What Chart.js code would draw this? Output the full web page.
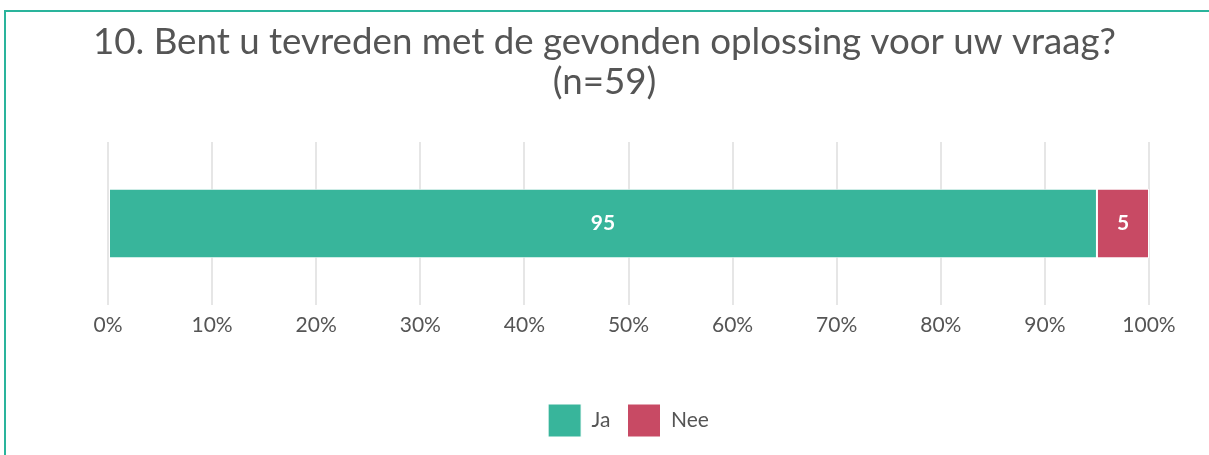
<!DOCTYPE html>
<html lang="nl">
<head>
    <meta charset="UTF-8">
    <title>Tevredenheid oplossing</title>
    <script src="https://cdn.jsdelivr.net/npm/chart.js"></script>
    <style>
        body {
            margin: 0;
            background: #ffffff;
            font-family: Lato, sans-serif;
        }

        .frame {
            position: absolute;
            left: 4px;
            top: 10px;
            width: 1220px;
            height: 460px;
            border-top: 2px solid #2ab49c;
            border-left: 2px solid #2ab49c;
        }

        .container {
            position: absolute;
            left: 0;
            top: 0;
            width: 1209px;
            height: 455px;
        }
    </style>
</head>
<body>

    <div class="frame"></div>
    <div class="container">
        <canvas id="satisfactionChart"></canvas>
    </div>

    <script>
        const titleLines = ['10. Bent u tevreden met de gevonden oplossing voor uw vraag?', '(n=59)'];
        const categories = [''];
        const seriesNames = ['Ja', 'Nee'];
        const jaValues = [95];
        const neeValues = [5];
        const tickValues = [0, 10, 20, 30, 40, 50, 60, 70, 80, 90, 100];

        const textColor = '#555555';

        // white numbers in the middle of each bar piece
        const barLabels = {
            id: 'barLabels',
            afterDatasetsDraw(chart) {
                const ctx = chart.ctx;
                ctx.save();
                ctx.fillStyle = '#ffffff';
                ctx.font = 'bold 21px Lato, sans-serif';
                ctx.textAlign = 'center';
                ctx.textBaseline = 'middle';
                chart.data.datasets.forEach((ds, i) => {
                    chart.getDatasetMeta(i).data.forEach((bar, j) => {
                        const p = bar.getCenterPoint();
                        ctx.fillText(String(ds.data[j]), p.x, p.y);
                    });
                });
                ctx.restore();
            }
        };

        const ctx = document.getElementById('satisfactionChart').getContext('2d');

        new Chart(ctx, {
            type: 'bar',
            data: {
                labels: categories,
                datasets: [{
                    label: seriesNames[0],
                    data: jaValues,
                    backgroundColor: '#38b59b',
                    borderColor: '#ffffff',
                    borderWidth: 1,
                    borderSkipped: false
                }, {
                    label: seriesNames[1],
                    data: neeValues,
                    backgroundColor: '#c84a64',
                    borderColor: '#ffffff',
                    borderWidth: 1,
                    borderSkipped: false
                }]
            },
            options: {
                indexAxis: 'y',
                responsive: true,
                maintainAspectRatio: false,
                animation: false,
                layout: {
                    padding: { left: 60, right: 60, top: 0, bottom: 8 }
                },
                datasets: {
                    bar: { categoryPercentage: 1, barPercentage: 0.425 }
                },
                scales: {
                    x: {
                        stacked: true,
                        min: 0,
                        max: 100,
                        afterBuildTicks(scale) {
                            scale.ticks = tickValues.map(v => ({ value: v }));
                        },
                        afterFit(scale) {
                            scale.height = 82;
                        },
                        border: { display: false },
                        grid: {
                            color: '#e6e6e6',
                            lineWidth: 2,
                            drawTicks: false,
                            tickLength: 0
                        },
                        ticks: {
                            padding: 8,
                            color: textColor,
                            font: { family: 'Lato', size: 21 },
                            callback: v => v + '%'
                        }
                    },
                    y: {
                        stacked: true,
                        afterFit(scale) {
                            scale.width = 48;
                        },
                        border: { display: false },
                        grid: { display: false },
                        ticks: { display: false }
                    }
                },
                plugins: {
                    title: {
                        display: true,
                        text: titleLines,
                        color: textColor,
                        font: { family: 'Lato', size: 36.7, weight: 'normal', lineHeight: 1.09 },
                        padding: { top: 22, bottom: 40 }
                    },
                    legend: {
                        position: 'bottom',
                        fullSize: false,
                        labels: {
                            boxWidth: 33,
                            boxHeight: 33,
                            padding: 17,
                            color: textColor,
                            font: { family: 'Lato', size: 21 }
                        }
                    },
                    tooltip: { enabled: false }
                }
            },
            plugins: [barLabels]
        });
    </script>

</body>
</html>
